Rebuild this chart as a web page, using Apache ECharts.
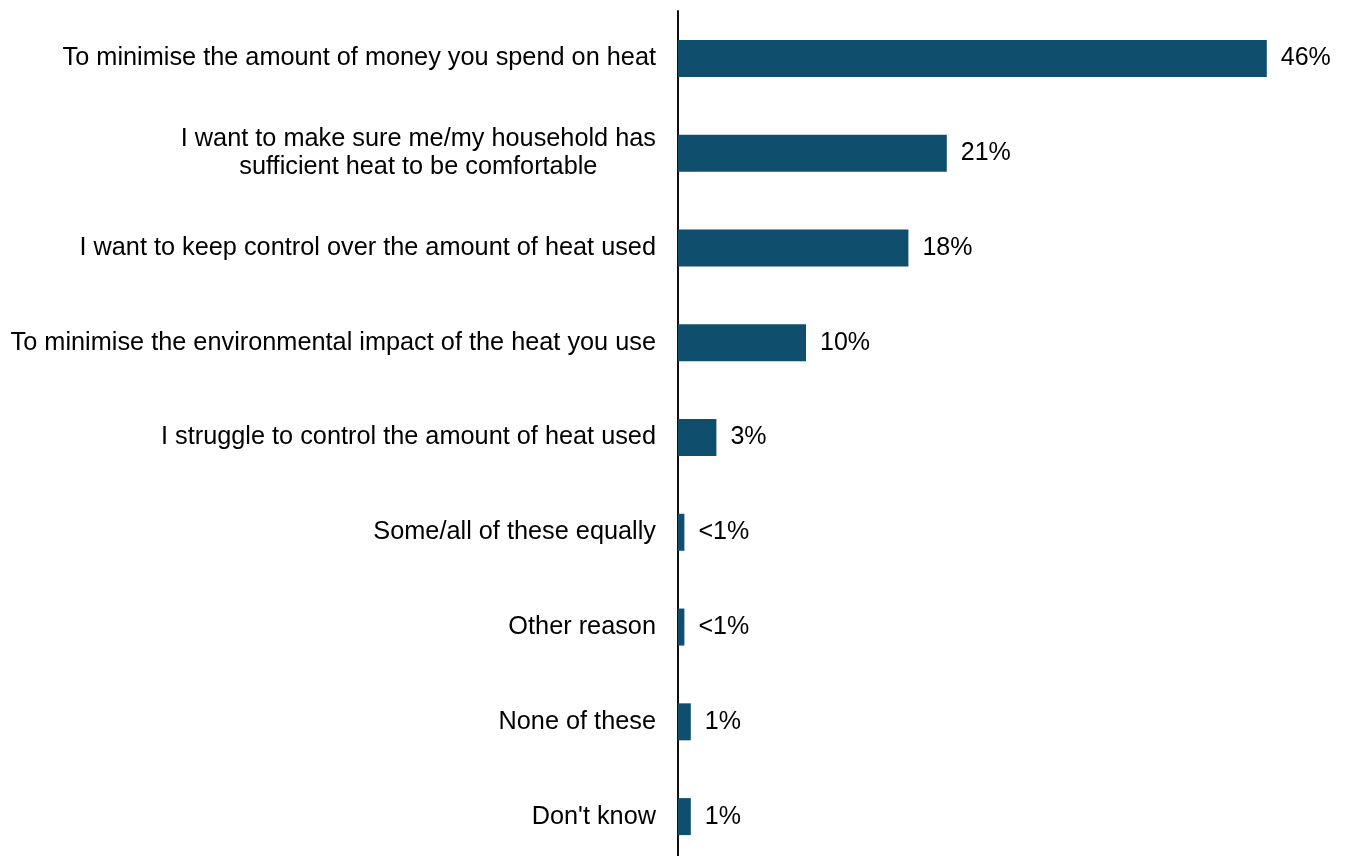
<!DOCTYPE html>
<html>
<head>
<meta charset="utf-8">
<title>Reasons for heat use</title>
<script src="https://cdn.jsdelivr.net/npm/echarts@6/dist/echarts.min.js"></script>
<style>
  html, body { margin: 0; padding: 0; background: #ffffff; overflow: hidden; }
  body { width: 1345px; height: 856px; }
  /* the plot runs a few pixels past the bottom edge of the page */
  #chart { width: 1345px; height: 864px; }
</style>
</head>
<body>
<div id="chart"></div>
<script>
// Survey answers, top to bottom
const categories = [
  'To minimise the amount of money you spend on heat',
  'I want to make sure me/my household has\nsufficient heat to be comfortable',
  'I want to keep control over the amount of heat used',
  'To minimise the environmental impact of the heat you use',
  'I struggle to control the amount of heat used',
  'Some/all of these equally',
  'Other reason',
  'None of these',
  "Don't know"
];

// Share of respondents (%)
const values = [46, 21, 18, 10, 3, 0.5, 0.5, 1, 1];

// Text shown next to each bar
const valueLabels = ['46%', '21%', '18%', '10%', '3%', '<1%', '<1%', '1%', '1%'];

const chart = echarts.init(document.getElementById('chart'), null, { renderer: 'canvas' });

const fontFamily = '"Liberation Sans", Arial, sans-serif';

chart.setOption({
  animation: false,
  backgroundColor: '#ffffff',
  grid: { left: 678, right: 27, top: 11, bottom: 0, containLabel: false },
  xAxis: {
    type: 'value',
    min: 0,
    max: 50,
    show: false
  },
  yAxis: {
    type: 'category',
    data: categories,
    inverse: true,
    axisLine: { show: true, lineStyle: { color: '#111111', width: 2 } },
    axisTick: { show: false },
    splitLine: { show: false },
    axisLabel: {
      margin: 22,
      formatter: function (v) { return '{c|' + v + '}'; },
      rich: {
        c: {
          fontFamily: fontFamily,
          fontSize: 25.3,
          color: '#000000',
          lineHeight: 28,
          align: 'center'
        }
      }
    }
  },
  series: [{
    type: 'bar',
    data: values,
    barWidth: 37,
    itemStyle: { color: '#0f4e6c' },
    label: {
      show: true,
      position: 'right',
      distance: 14,
      fontFamily: fontFamily,
      fontSize: 25,
      color: '#000000',
      formatter: function (p) { return valueLabels[p.dataIndex]; }
    }
  }]
});
</script>
</body>
</html>
